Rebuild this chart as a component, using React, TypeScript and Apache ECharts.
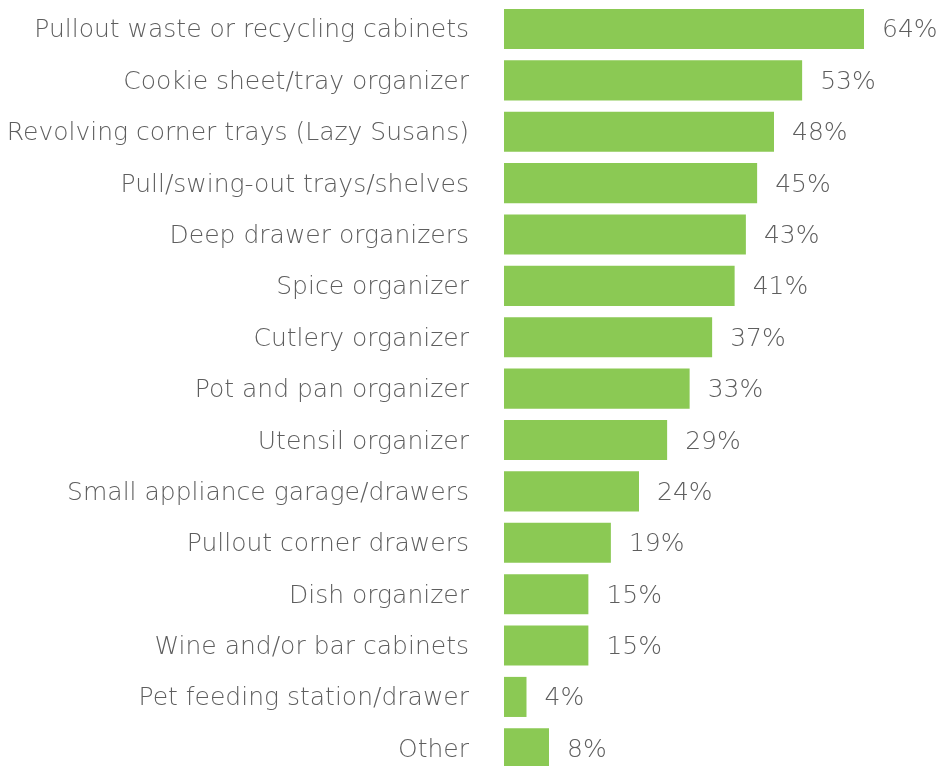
import React, { useEffect, useRef } from "react";
import * as echarts from "echarts";

const categories = [
  "Pullout waste or recycling cabinets",
  "Cookie sheet/tray organizer",
  "Revolving corner trays (Lazy Susans)",
  "Pull/swing-out trays/shelves",
  "Deep drawer organizers",
  "Spice organizer",
  "Cutlery organizer",
  "Pot and pan organizer",
  "Utensil organizer",
  "Small appliance garage/drawers",
  "Pullout corner drawers",
  "Dish organizer",
  "Wine and/or bar cabinets",
  "Pet feeding station/drawer",
  "Other",
];
const values = [64, 53, 48, 45, 43, 41, 37, 33, 29, 24, 19, 15, 15, 4, 8];

const FONT = "DejaVu Sans";

export default function App() {
  const ref = useRef<HTMLDivElement>(null);
  useEffect(() => {
    if (!ref.current) return;
    const chart = echarts.init(ref.current, undefined, { renderer: "svg" });
    chart.setOption({
      animation: false,
      grid: { left: 504, width: 360, top: 3.3, height: 770.7, containLabel: false },
      xAxis: {
        type: "value",
        min: 0,
        max: 64,
        show: false,
      },
      yAxis: {
        type: "category",
        data: categories,
        inverse: true,
        axisLine: { show: false },
        axisTick: { show: false },
        splitLine: { show: false },
        axisLabel: {
          margin: 35,
          color: "#5e5e5e",
          fontSize: 25,
          fontFamily: FONT,
          fontWeight: 200,
          padding: [5, 0, 0, 0],
        },
      },
      series: [
        {
          type: "bar",
          data: values,
          barCategoryGap: "22%",
          itemStyle: { color: "#8BC954" },
          label: {
            show: true,
            position: "right",
            distance: 18,
            formatter: "{c}%",
            color: "#5e5e5e",
            fontSize: 25,
            fontFamily: FONT,
            fontWeight: 200,
            padding: [5, 0, 0, 0],
          },
        },
      ],
    });
    return () => chart.dispose();
  }, []);
  return (
    <div style={{ position: "fixed", left: 0, top: 0, width: 937, height: 766, overflow: "hidden" }}>
      <div ref={ref} style={{ width: 937, height: 800 }} />
    </div>
  );
}
